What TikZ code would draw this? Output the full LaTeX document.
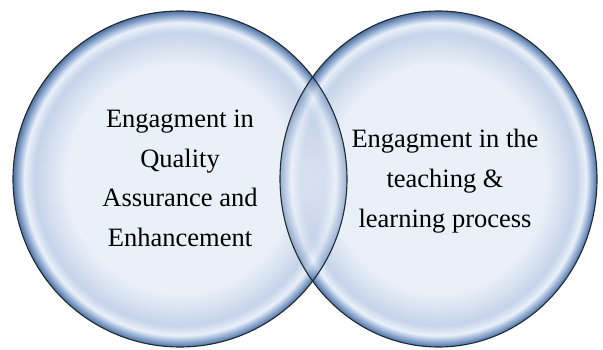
\documentclass[tikz,border=0pt]{standalone}
\usepackage{fontspec}
\setmainfont{Liberation Serif}
\usetikzlibrary{shapes.geometric}
\definecolor{bubbleIn}{HTML}{EAF0F8}
\definecolor{rimA}{HTML}{C6D4EA}
\definecolor{rimHi}{HTML}{E9F0F9}
\definecolor{rimB}{HTML}{8AA6CF}
\definecolor{rimC}{HTML}{4F719B}
\definecolor{edgeDark}{HTML}{1E2A36}
\pgfdeclareradialshading{bubble}{\pgfpoint{0bp}{0bp}}{color(0bp)=(bubbleIn); color(17bp)=(bubbleIn); color(21.8bp)=(rimA); color(23.3bp)=(rimHi); color(24.3bp)=(rimB); color(25bp)=(rimC); color(50bp)=(rimC)}
\tikzset{
  bubblenode/.style={ellipse, inner sep=0pt, shading=bubble},
  bubbleedge/.style={draw=edgeDark, line width=1.1pt},
  bubbletext/.style={align=center, font=\fontsize{26.5pt}{39.7pt}\selectfont, text=black, inner sep=0pt}
}
\begin{document}
\begin{tikzpicture}[x=1pt,y=-1pt]
\useasboundingbox (0,0) rectangle (603,350);
\node[bubblenode, minimum width=334pt, minimum height=336pt] (circL) at (180,179) {};
\node[bubblenode, minimum width=317pt, minimum height=336pt] (circR) at (438.5,179) {};
\begin{scope}
  \clip (438.5,179) ellipse [x radius=158.5pt, y radius=168pt];
  \path[shading=bubble, fill opacity=0.5] (180,179) ellipse [x radius=167pt, y radius=168pt];
\end{scope}
\draw[bubbleedge] (180,179) ellipse [x radius=167pt, y radius=168pt];
\draw[bubbleedge] (438.5,179) ellipse [x radius=158.5pt, y radius=168pt];
\node[bubbletext] (labL) at (180,178.5) {Engagment in\\Quality\\Assurance and\\Enhancement};
\node[bubbletext] (labR) at (445,181.3) {Engagment in the\\teaching \&\\learning process};
\end{tikzpicture}
\end{document}
